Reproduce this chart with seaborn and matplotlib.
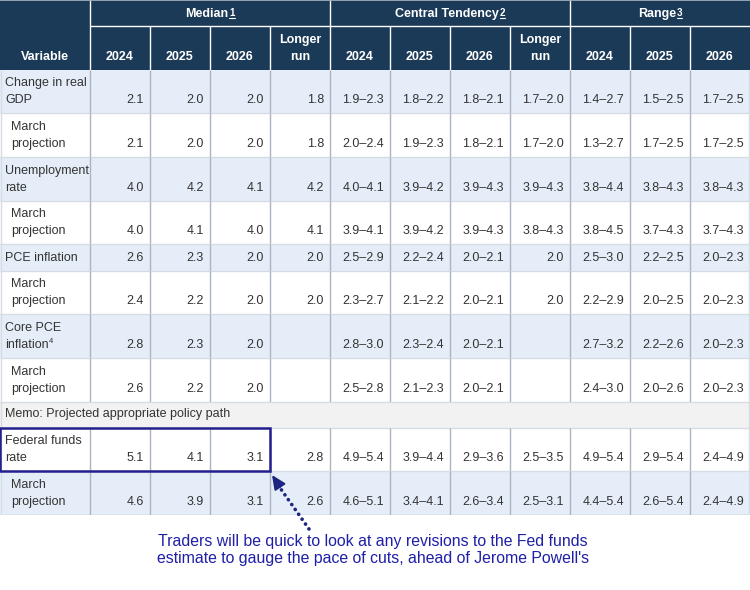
import numpy as np
import matplotlib
matplotlib.use("Agg")
import matplotlib.pyplot as plt
from matplotlib.colors import ListedColormap
from matplotlib.patches import Rectangle
import seaborn as sns

# column headers
groups = ["Median", "Central Tendency", "Range"]
group_notes = ["1", "2", "3"]
group_years = [["2024", "2025", "2026", "Longer\nrun"],
               ["2024", "2025", "2026", "Longer\nrun"],
               ["2024", "2025", "2026"]]

# row labels
labels = [["Change in real", "GDP"], ["March", "projection"],
          ["Unemployment", "rate"], ["March", "projection"],
          ["PCE inflation"], ["March", "projection"],
          ["Core PCE", "inflation"], ["March", "projection"],
          ["Memo: Projected appropriate policy path"],
          ["Federal funds", "rate"], ["March", "projection"]]
is_march = [False, True, False, True, False, True, False, True, False, False, True]

# values per row: median (4) | central tendency (4) | range (3)
gdp = ["2.1", "2.0", "2.0", "1.8", "1.9–2.3", "1.8–2.2", "1.8–2.1", "1.7–2.0", "1.4–2.7", "1.5–2.5", "1.7–2.5"]
gdp_mar = ["2.1", "2.0", "2.0", "1.8", "2.0–2.4", "1.9–2.3", "1.8–2.1", "1.7–2.0", "1.3–2.7", "1.7–2.5", "1.7–2.5"]
unemp = ["4.0", "4.2", "4.1", "4.2", "4.0–4.1", "3.9–4.2", "3.9–4.3", "3.9–4.3", "3.8–4.4", "3.8–4.3", "3.8–4.3"]
unemp_mar = ["4.0", "4.1", "4.0", "4.1", "3.9–4.1", "3.9–4.2", "3.9–4.3", "3.8–4.3", "3.8–4.5", "3.7–4.3", "3.7–4.3"]
pce = ["2.6", "2.3", "2.0", "2.0", "2.5–2.9", "2.2–2.4", "2.0–2.1", "2.0", "2.5–3.0", "2.2–2.5", "2.0–2.3"]
pce_mar = ["2.4", "2.2", "2.0", "2.0", "2.3–2.7", "2.1–2.2", "2.0–2.1", "2.0", "2.2–2.9", "2.0–2.5", "2.0–2.3"]
core = ["2.8", "2.3", "2.0", "", "2.8–3.0", "2.3–2.4", "2.0–2.1", "", "2.7–3.2", "2.2–2.6", "2.0–2.3"]
core_mar = ["2.6", "2.2", "2.0", "", "2.5–2.8", "2.1–2.3", "2.0–2.1", "", "2.4–3.0", "2.0–2.6", "2.0–2.3"]
fed = ["5.1", "4.1", "3.1", "2.8", "4.9–5.4", "3.9–4.4", "2.9–3.6", "2.5–3.5", "4.9–5.4", "2.9–5.4", "2.4–4.9"]
fed_mar = ["4.6", "3.9", "3.1", "2.6", "4.6–5.1", "3.4–4.1", "2.6–3.4", "2.5–3.1", "4.4–5.4", "2.6–5.4", "2.4–4.9"]
rows = [gdp, gdp_mar, unemp, unemp_mar, pce, pce_mar, core, core_mar, None, fed, fed_mar]

note = ("Traders will be quick to look at any revisions to the Fed funds\n"
        "estimate to gauge the pace of cuts, ahead of Jerome Powell's")

# colours
NAVY = "#1b3a57"
BLUE = "#e5eef8"
GRAY = "#f2f2f2"
TXT = "#333333"
VLINE = "#a9b4c0"
HLINE = "#d6dce3"
MARK = "#23208e"
ARROW = "#1d2580"

sns.set_theme(style="white")
plt.rcParams["font.family"] = ["Liberation Sans", "DejaVu Sans"]

# layout in grid units: header rows, body rows, columns
head_u = [3, 5]
row_u = [5, 5, 5, 5, 3, 5, 5, 5, 3, 5, 5]
row_fill = [1, 2, 1, 2, 1, 2, 1, 2, 3, 2, 1]
col_u = [3] + [2] * 11
n_cols = sum(col_u)
n_rows = sum(head_u) + sum(row_u)

grid = np.vstack([np.zeros((sum(head_u), n_cols))] +
                 [np.full((u, n_cols), f) for u, f in zip(row_u, row_fill)])

fig = plt.figure(figsize=(7.5, 5.9), dpi=100)
TABLE_PX = 515
ax = fig.add_axes([0, 1 - TABLE_PX / 590, 1, TABLE_PX / 590])
sns.heatmap(grid, cmap=ListedColormap([NAVY, BLUE, "white", GRAY]), vmin=-0.5, vmax=3.5,
            cbar=False, xticklabels=False, yticklabels=False, linewidths=0, ax=ax)
ax.set_axis_off()

PXX = 30.0
PXY = TABLE_PX / n_rows


def uy(px):
    return px / PXY


def ux(px):
    return px / PXX


col_edges = np.cumsum([0] + col_u)
head_bot = sum(head_u)
body_edges = head_bot + np.cumsum([0] + row_u)

# header lines
ax.hlines(head_u[0], 3, n_cols, color="white", lw=1)
ax.vlines([3, 11, 19], 0, head_bot, color="white", lw=1)
ax.vlines([5, 7, 9, 13, 15, 17, 21, 23], head_u[0], head_bot, color="white", lw=1)

# body lines
for i in range(len(row_u)):
    top, bot = body_edges[i], body_edges[i + 1]
    if rows[i] is not None:
        ax.vlines(col_edges[1:-1], top, bot, color=VLINE, lw=1)
    ax.hlines(bot, 0, n_cols, color=HLINE if i < len(row_u) - 1 else VLINE, lw=1)
ax.vlines([0.02, n_cols - 0.02], head_bot, body_edges[-1], color=HLINE, lw=1)
ax.hlines(0.05, 0, n_cols, color=VLINE, lw=1.2, clip_on=False)

renderer = fig.canvas.get_renderer()
hfont = dict(color="white", fontsize=9, fontweight="bold")

# group titles with underlined note marks
group_spans = [(3, 11), (11, 19), (19, 25)]
for name, mark, (a, b) in zip(groups, group_notes, group_spans):
    t = ax.text(0, uy(17), name, ha="left", va="baseline", **hfont)
    s = ax.text(0, uy(15.5), mark, ha="left", va="baseline", color="white",
                fontsize=7, fontweight="bold")
    wt = t.get_window_extent(renderer).width
    ws = s.get_window_extent(renderer).width
    x0 = (a + b) / 2 - ux(wt + ws + 1) / 2
    t.set_x(x0)
    s.set_x(x0 + ux(wt + 1))
    ax.plot([x0 + ux(wt + 1), x0 + ux(wt + 1 + ws)], [uy(17.5), uy(17.5)],
            color="white", lw=0.8)

# year headers
ax.text(1.5, head_bot - uy(10), "Variable", ha="center", va="baseline", **hfont)
j = 1
for years in group_years:
    for yr in years:
        xc = (col_edges[j] + col_edges[j + 1]) / 2
        for k, line in enumerate(reversed(yr.split("\n"))):
            ax.text(xc, head_bot - uy(10 + 16.7 * k), line, ha="center", va="baseline", **hfont)
        j += 1

# body text
for i, (lab, vals) in enumerate(zip(labels, rows)):
    bot = body_edges[i + 1]
    base = bot - uy(10)
    if vals is None:
        ax.text(ux(5), bot - uy(10.5), lab[0], ha="left", va="baseline", color=TXT, fontsize=9)
        continue
    x_lab = ux(11) if is_march[i] else ux(5)
    for k, line in enumerate(reversed(lab)):
        t = ax.text(x_lab, base - uy(17 * k), line, ha="left", va="baseline", color=TXT, fontsize=9)
        if i == 6 and k == 0:
            w = t.get_window_extent(renderer).width
            ax.text(x_lab + ux(w + 0.5), base - uy(4.5), "4", ha="left", va="baseline",
                    color=TXT, fontsize=5.5)
    for c, v in enumerate(vals):
        ax.text(col_edges[c + 2] - ux(6), base, v, ha="right", va="baseline", color=TXT, fontsize=9)

# highlighted Federal funds row and pointer
ff_top, ff_bot = body_edges[9], body_edges[10]
ax.add_patch(Rectangle((0, ff_top), 9, ff_bot - ff_top, fill=False, edgecolor=MARK,
                       lw=1.8, clip_on=False, zorder=5))
ax.annotate("", xy=(ux(278), uy(485)), xytext=(ux(309), uy(529)), annotation_clip=False,
            arrowprops=dict(arrowstyle="-", color=ARROW, lw=2.6,
                            linestyle=(0, (0.05, 1.6)), capstyle="round",
                            shrinkA=0, shrinkB=0))
ax.annotate("", xy=(ux(272), uy(475)), xytext=(ux(280), uy(487)), annotation_clip=False,
            arrowprops=dict(arrowstyle="-|>,head_length=0.7,head_width=0.32", color=ARROW,
                            lw=1.5, shrinkA=0, shrinkB=0))

fig.text(373 / 750, 1 - 550 / 590, note, ha="center", va="center", color="#1f1fa8",
         fontsize=11.4, linespacing=1.12)

fig.savefig("out.png", dpi=100)
